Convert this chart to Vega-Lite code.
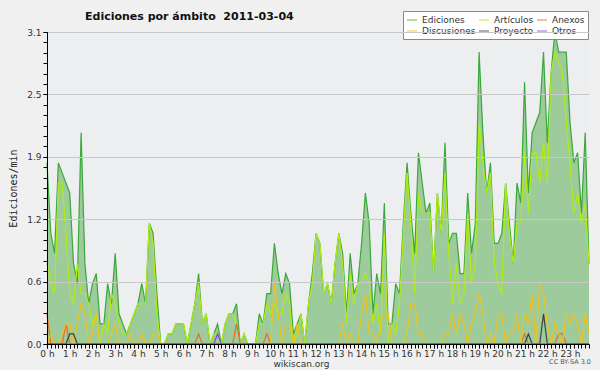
{
  "$schema": "https://vega.github.io/schema/vega-lite/v6.json",
  "width": 542,
  "height": 312,
  "autosize": {"type": "none"},
  "padding": {"left": 47, "top": 32, "right": 11, "bottom": 26},
  "background": "#f0f0f0",
  "title": {"text": "Ediciones por ámbito\u00a0\u00a02011-03-04", "anchor": "start", "frame": "group", "dx": 38, "offset": -22, "baseline": "bottom", "font": "DejaVu Sans", "fontSize": 11, "fontWeight": "bold", "color": "#111"},
  "config": {
    "view": {"fill": "#edeef0", "stroke": null},
    "axis": {"labelFont": "DejaVu Sans", "labelFontSize": 9, "labelColor": "#333", "domainColor": "#000", "tickColor": "#000", "titleFont": "DejaVu Sans", "titleFontWeight": "normal", "titleColor": "#222"},
    "legend": {"labelFont": "DejaVu Sans", "labelFontSize": 9, "labelColor": "#333"}
  },
  "data": {"values": [
    {"m":0,"Ediciones":1.8,"Artículos":0.8,"Anexos":0.3,"Discusiones":0,"Proyecto":0,"Otros":0},
    {"m":10,"Ediciones":1.1,"Artículos":0.6,"Anexos":0,"Discusiones":0.1,"Proyecto":0,"Otros":0},
    {"m":20,"Ediciones":0.9,"Artículos":0.5,"Anexos":0,"Discusiones":0,"Proyecto":0,"Otros":0},
    {"m":30,"Ediciones":1.8,"Artículos":1.6,"Anexos":0,"Discusiones":0,"Proyecto":0,"Otros":0},
    {"m":40,"Ediciones":1.7,"Artículos":1.6,"Anexos":0,"Discusiones":0.1,"Proyecto":0,"Otros":0},
    {"m":50,"Ediciones":1.6,"Artículos":1.1,"Anexos":0.2,"Discusiones":0.2,"Proyecto":0,"Otros":0},
    {"m":60,"Ediciones":1.5,"Artículos":0.5,"Anexos":0,"Discusiones":0.2,"Proyecto":0.1,"Otros":0},
    {"m":70,"Ediciones":0.8,"Artículos":0.4,"Anexos":0,"Discusiones":0,"Proyecto":0.1,"Otros":0},
    {"m":80,"Ediciones":0.6,"Artículos":0.8,"Anexos":0,"Discusiones":0.2,"Proyecto":0,"Otros":0},
    {"m":90,"Ediciones":2.1,"Artículos":0.5,"Anexos":0,"Discusiones":0.4,"Proyecto":0,"Otros":0},
    {"m":100,"Ediciones":0.8,"Artículos":0.5,"Anexos":0,"Discusiones":0.3,"Proyecto":0,"Otros":0},
    {"m":110,"Ediciones":0.4,"Artículos":0.4,"Anexos":0,"Discusiones":0,"Proyecto":0,"Otros":0},
    {"m":120,"Ediciones":0.6,"Artículos":0.2,"Anexos":0,"Discusiones":0.1,"Proyecto":0,"Otros":0},
    {"m":130,"Ediciones":0.7,"Artículos":0.3,"Anexos":0,"Discusiones":0.3,"Proyecto":0,"Otros":0},
    {"m":140,"Ediciones":0.2,"Artículos":0,"Anexos":0,"Discusiones":0,"Proyecto":0,"Otros":0},
    {"m":150,"Ediciones":0.2,"Artículos":0.2,"Anexos":0,"Discusiones":0,"Proyecto":0,"Otros":0},
    {"m":160,"Ediciones":0.6,"Artículos":0.1,"Anexos":0,"Discusiones":0,"Proyecto":0,"Otros":0},
    {"m":170,"Ediciones":0.4,"Artículos":0.5,"Anexos":0,"Discusiones":0.1,"Proyecto":0,"Otros":0},
    {"m":180,"Ediciones":0.9,"Artículos":0.4,"Anexos":0,"Discusiones":0.2,"Proyecto":0,"Otros":0},
    {"m":190,"Ediciones":0.3,"Artículos":0.2,"Anexos":0,"Discusiones":0,"Proyecto":0,"Otros":0},
    {"m":200,"Ediciones":0.2,"Artículos":0.1,"Anexos":0,"Discusiones":0,"Proyecto":0,"Otros":0},
    {"m":210,"Ediciones":0.1,"Artículos":0.1,"Anexos":0,"Discusiones":0,"Proyecto":0,"Otros":0},
    {"m":220,"Ediciones":0.2,"Artículos":0.2,"Anexos":0,"Discusiones":0.1,"Proyecto":0,"Otros":0},
    {"m":230,"Ediciones":0.3,"Artículos":0.3,"Anexos":0,"Discusiones":0,"Proyecto":0,"Otros":0},
    {"m":240,"Ediciones":0.4,"Artículos":0.4,"Anexos":0,"Discusiones":0,"Proyecto":0,"Otros":0},
    {"m":250,"Ediciones":0.6,"Artículos":0.4,"Anexos":0,"Discusiones":0.1,"Proyecto":0,"Otros":0},
    {"m":260,"Ediciones":0.4,"Artículos":0.4,"Anexos":0,"Discusiones":0,"Proyecto":0,"Otros":0},
    {"m":270,"Ediciones":1.2,"Artículos":1.2,"Anexos":0,"Discusiones":0,"Proyecto":0,"Otros":0},
    {"m":280,"Ediciones":1.1,"Artículos":1.0,"Anexos":0,"Discusiones":0.1,"Proyecto":0,"Otros":0},
    {"m":290,"Ediciones":0.5,"Artículos":0.3,"Anexos":0,"Discusiones":0.1,"Proyecto":0,"Otros":0},
    {"m":300,"Ediciones":0,"Artículos":0,"Anexos":0,"Discusiones":0,"Proyecto":0,"Otros":0},
    {"m":310,"Ediciones":0,"Artículos":0,"Anexos":0,"Discusiones":0,"Proyecto":0,"Otros":0},
    {"m":320,"Ediciones":0.1,"Artículos":0.1,"Anexos":0,"Discusiones":0,"Proyecto":0,"Otros":0},
    {"m":330,"Ediciones":0.1,"Artículos":0.1,"Anexos":0,"Discusiones":0,"Proyecto":0,"Otros":0},
    {"m":340,"Ediciones":0.2,"Artículos":0.2,"Anexos":0,"Discusiones":0,"Proyecto":0,"Otros":0},
    {"m":350,"Ediciones":0.2,"Artículos":0.2,"Anexos":0,"Discusiones":0,"Proyecto":0,"Otros":0},
    {"m":360,"Ediciones":0.2,"Artículos":0.2,"Anexos":0,"Discusiones":0,"Proyecto":0,"Otros":0},
    {"m":370,"Ediciones":0,"Artículos":0,"Anexos":0,"Discusiones":0,"Proyecto":0,"Otros":0},
    {"m":380,"Ediciones":0.2,"Artículos":0.2,"Anexos":0,"Discusiones":0,"Proyecto":0,"Otros":0},
    {"m":390,"Ediciones":0.4,"Artículos":0.4,"Anexos":0,"Discusiones":0,"Proyecto":0,"Otros":0},
    {"m":400,"Ediciones":0.7,"Artículos":0.6,"Anexos":0.1,"Discusiones":0,"Proyecto":0,"Otros":0},
    {"m":410,"Ediciones":0.2,"Artículos":0.2,"Anexos":0,"Discusiones":0,"Proyecto":0,"Otros":0},
    {"m":420,"Ediciones":0.3,"Artículos":0.3,"Anexos":0,"Discusiones":0,"Proyecto":0,"Otros":0},
    {"m":430,"Ediciones":0,"Artículos":0,"Anexos":0,"Discusiones":0,"Proyecto":0,"Otros":0},
    {"m":440,"Ediciones":0.1,"Artículos":0.1,"Anexos":0,"Discusiones":0,"Proyecto":0,"Otros":0},
    {"m":450,"Ediciones":0.2,"Artículos":0.1,"Anexos":0,"Discusiones":0,"Proyecto":0,"Otros":0.1},
    {"m":460,"Ediciones":0,"Artículos":0,"Anexos":0,"Discusiones":0,"Proyecto":0,"Otros":0},
    {"m":470,"Ediciones":0.2,"Artículos":0.2,"Anexos":0,"Discusiones":0,"Proyecto":0,"Otros":0},
    {"m":480,"Ediciones":0.3,"Artículos":0.3,"Anexos":0,"Discusiones":0,"Proyecto":0,"Otros":0},
    {"m":490,"Ediciones":0.3,"Artículos":0.3,"Anexos":0,"Discusiones":0,"Proyecto":0,"Otros":0},
    {"m":500,"Ediciones":0.4,"Artículos":0.2,"Anexos":0.2,"Discusiones":0,"Proyecto":0,"Otros":0},
    {"m":510,"Ediciones":0,"Artículos":0,"Anexos":0,"Discusiones":0,"Proyecto":0,"Otros":0},
    {"m":520,"Ediciones":0.1,"Artículos":0.1,"Anexos":0,"Discusiones":0,"Proyecto":0,"Otros":0},
    {"m":530,"Ediciones":0,"Artículos":0,"Anexos":0,"Discusiones":0,"Proyecto":0,"Otros":0},
    {"m":540,"Ediciones":0,"Artículos":0,"Anexos":0,"Discusiones":0,"Proyecto":0,"Otros":0},
    {"m":550,"Ediciones":0,"Artículos":0,"Anexos":0,"Discusiones":0,"Proyecto":0,"Otros":0},
    {"m":560,"Ediciones":0.3,"Artículos":0.2,"Anexos":0,"Discusiones":0,"Proyecto":0,"Otros":0},
    {"m":570,"Ediciones":0.2,"Artículos":0.2,"Anexos":0,"Discusiones":0,"Proyecto":0,"Otros":0},
    {"m":580,"Ediciones":0.5,"Artículos":0.4,"Anexos":0.1,"Discusiones":0,"Proyecto":0,"Otros":0},
    {"m":590,"Ediciones":0.5,"Artículos":0.3,"Anexos":0,"Discusiones":0,"Proyecto":0,"Otros":0},
    {"m":600,"Ediciones":1.0,"Artículos":0.4,"Anexos":0,"Discusiones":0.6,"Proyecto":0,"Otros":0},
    {"m":610,"Ediciones":0.7,"Artículos":0.3,"Anexos":0,"Discusiones":0.3,"Proyecto":0,"Otros":0},
    {"m":620,"Ediciones":0.5,"Artículos":0.3,"Anexos":0,"Discusiones":0,"Proyecto":0,"Otros":0},
    {"m":630,"Ediciones":0.7,"Artículos":0.5,"Anexos":0,"Discusiones":0.2,"Proyecto":0,"Otros":0},
    {"m":640,"Ediciones":0.6,"Artículos":0.4,"Anexos":0,"Discusiones":0.2,"Proyecto":0,"Otros":0},
    {"m":650,"Ediciones":0.1,"Artículos":0,"Anexos":0,"Discusiones":0,"Proyecto":0,"Otros":0},
    {"m":660,"Ediciones":0.2,"Artículos":0.1,"Anexos":0,"Discusiones":0.2,"Proyecto":0,"Otros":0},
    {"m":670,"Ediciones":0.3,"Artículos":0.3,"Anexos":0,"Discusiones":0,"Proyecto":0,"Otros":0},
    {"m":680,"Ediciones":0,"Artículos":0,"Anexos":0,"Discusiones":0,"Proyecto":0,"Otros":0},
    {"m":690,"Ediciones":0.4,"Artículos":0.4,"Anexos":0,"Discusiones":0,"Proyecto":0,"Otros":0},
    {"m":700,"Ediciones":0.7,"Artículos":0.6,"Anexos":0,"Discusiones":0,"Proyecto":0,"Otros":0},
    {"m":710,"Ediciones":1.1,"Artículos":1.1,"Anexos":0,"Discusiones":0,"Proyecto":0,"Otros":0},
    {"m":720,"Ediciones":1.0,"Artículos":1.0,"Anexos":0,"Discusiones":0,"Proyecto":0,"Otros":0},
    {"m":730,"Ediciones":0.5,"Artículos":0.5,"Anexos":0,"Discusiones":0,"Proyecto":0,"Otros":0},
    {"m":740,"Ediciones":0.6,"Artículos":0.6,"Anexos":0,"Discusiones":0,"Proyecto":0,"Otros":0},
    {"m":750,"Ediciones":0.4,"Artículos":0.4,"Anexos":0,"Discusiones":0,"Proyecto":0,"Otros":0},
    {"m":760,"Ediciones":0.8,"Artículos":0.8,"Anexos":0,"Discusiones":0,"Proyecto":0,"Otros":0},
    {"m":770,"Ediciones":1.1,"Artículos":1.1,"Anexos":0,"Discusiones":0,"Proyecto":0,"Otros":0},
    {"m":780,"Ediciones":0.9,"Artículos":0.8,"Anexos":0,"Discusiones":0.2,"Proyecto":0,"Otros":0},
    {"m":790,"Ediciones":0.3,"Artículos":0.2,"Anexos":0,"Discusiones":0,"Proyecto":0,"Otros":0},
    {"m":800,"Ediciones":0.9,"Artículos":0.7,"Anexos":0,"Discusiones":0.1,"Proyecto":0,"Otros":0},
    {"m":810,"Ediciones":0.5,"Artículos":0.4,"Anexos":0,"Discusiones":0,"Proyecto":0,"Otros":0},
    {"m":820,"Ediciones":0.6,"Artículos":0.6,"Anexos":0,"Discusiones":0,"Proyecto":0,"Otros":0},
    {"m":830,"Ediciones":1.0,"Artículos":0.6,"Anexos":0,"Discusiones":0.3,"Proyecto":0,"Otros":0},
    {"m":840,"Ediciones":1.5,"Artículos":0.7,"Anexos":0,"Discusiones":0.5,"Proyecto":0,"Otros":0},
    {"m":850,"Ediciones":1.2,"Artículos":0.6,"Anexos":0,"Discusiones":0.1,"Proyecto":0,"Otros":0},
    {"m":860,"Ediciones":0.3,"Artículos":0.2,"Anexos":0,"Discusiones":0.1,"Proyecto":0,"Otros":0},
    {"m":870,"Ediciones":0.7,"Artículos":0.4,"Anexos":0,"Discusiones":0,"Proyecto":0,"Otros":0},
    {"m":880,"Ediciones":0.5,"Artículos":0.1,"Anexos":0,"Discusiones":0.2,"Proyecto":0,"Otros":0},
    {"m":890,"Ediciones":1.4,"Artículos":1.1,"Anexos":0,"Discusiones":0.3,"Proyecto":0,"Otros":0},
    {"m":900,"Ediciones":0.2,"Artículos":0,"Anexos":0,"Discusiones":0.3,"Proyecto":0,"Otros":0},
    {"m":910,"Ediciones":0.2,"Artículos":0.2,"Anexos":0,"Discusiones":0,"Proyecto":0,"Otros":0},
    {"m":920,"Ediciones":0.6,"Artículos":0.1,"Anexos":0,"Discusiones":0,"Proyecto":0,"Otros":0},
    {"m":930,"Ediciones":0.5,"Artículos":0.4,"Anexos":0,"Discusiones":0,"Proyecto":0,"Otros":0},
    {"m":940,"Ediciones":1.2,"Artículos":1.1,"Anexos":0,"Discusiones":0,"Proyecto":0,"Otros":0},
    {"m":950,"Ediciones":1.8,"Artículos":1.7,"Anexos":0,"Discusiones":0.1,"Proyecto":0,"Otros":0},
    {"m":960,"Ediciones":1.3,"Artículos":1.2,"Anexos":0,"Discusiones":0.4,"Proyecto":0,"Otros":0},
    {"m":970,"Ediciones":0.9,"Artículos":0.5,"Anexos":0,"Discusiones":0.4,"Proyecto":0,"Otros":0},
    {"m":980,"Ediciones":1.9,"Artículos":1.5,"Anexos":0,"Discusiones":0.1,"Proyecto":0,"Otros":0},
    {"m":990,"Ediciones":1.6,"Artículos":1.3,"Anexos":0,"Discusiones":0.1,"Proyecto":0,"Otros":0},
    {"m":1000,"Ediciones":1.3,"Artículos":1.3,"Anexos":0,"Discusiones":0,"Proyecto":0,"Otros":0},
    {"m":1010,"Ediciones":1.4,"Artículos":1.3,"Anexos":0,"Discusiones":0,"Proyecto":0,"Otros":0},
    {"m":1020,"Ediciones":0.7,"Artículos":0.7,"Anexos":0,"Discusiones":0,"Proyecto":0,"Otros":0},
    {"m":1030,"Ediciones":1.5,"Artículos":1.5,"Anexos":0,"Discusiones":0,"Proyecto":0,"Otros":0},
    {"m":1040,"Ediciones":1.1,"Artículos":1.1,"Anexos":0,"Discusiones":0,"Proyecto":0,"Otros":0},
    {"m":1050,"Ediciones":2.0,"Artículos":1.7,"Anexos":0,"Discusiones":0.1,"Proyecto":0,"Otros":0},
    {"m":1060,"Ediciones":1.0,"Artículos":0.9,"Anexos":0,"Discusiones":0.1,"Proyecto":0,"Otros":0},
    {"m":1070,"Ediciones":1.1,"Artículos":0.4,"Anexos":0,"Discusiones":0.3,"Proyecto":0,"Otros":0},
    {"m":1080,"Ediciones":1.1,"Artículos":0.8,"Anexos":0,"Discusiones":0.1,"Proyecto":0,"Otros":0},
    {"m":1090,"Ediciones":0.7,"Artículos":0.4,"Anexos":0,"Discusiones":0.3,"Proyecto":0,"Otros":0},
    {"m":1100,"Ediciones":0.7,"Artículos":0.5,"Anexos":0,"Discusiones":0.2,"Proyecto":0,"Otros":0},
    {"m":1110,"Ediciones":1.5,"Artículos":1.3,"Anexos":0,"Discusiones":0,"Proyecto":0,"Otros":0},
    {"m":1120,"Ediciones":0.9,"Artículos":0.6,"Anexos":0,"Discusiones":0.2,"Proyecto":0,"Otros":0},
    {"m":1130,"Ediciones":1.2,"Artículos":0.8,"Anexos":0,"Discusiones":0.3,"Proyecto":0,"Otros":0},
    {"m":1140,"Ediciones":2.9,"Artículos":2.2,"Anexos":0,"Discusiones":0.5,"Proyecto":0,"Otros":0},
    {"m":1150,"Ediciones":2.1,"Artículos":1.8,"Anexos":0,"Discusiones":0.3,"Proyecto":0,"Otros":0},
    {"m":1160,"Ediciones":1.5,"Artículos":1.5,"Anexos":0,"Discusiones":0,"Proyecto":0,"Otros":0},
    {"m":1170,"Ediciones":1.8,"Artículos":1.7,"Anexos":0,"Discusiones":0.1,"Proyecto":0,"Otros":0},
    {"m":1180,"Ediciones":1.0,"Artículos":0.8,"Anexos":0,"Discusiones":0,"Proyecto":0,"Otros":0},
    {"m":1190,"Ediciones":1.0,"Artículos":0.6,"Anexos":0,"Discusiones":0.3,"Proyecto":0,"Otros":0},
    {"m":1200,"Ediciones":1.1,"Artículos":0.5,"Anexos":0,"Discusiones":0.3,"Proyecto":0,"Otros":0},
    {"m":1210,"Ediciones":1.6,"Artículos":1.6,"Anexos":0,"Discusiones":0,"Proyecto":0,"Otros":0},
    {"m":1220,"Ediciones":1.2,"Artículos":1.1,"Anexos":0,"Discusiones":0.1,"Proyecto":0,"Otros":0},
    {"m":1230,"Ediciones":0.8,"Artículos":0.8,"Anexos":0,"Discusiones":0.1,"Proyecto":0,"Otros":0},
    {"m":1240,"Ediciones":1.6,"Artículos":1.2,"Anexos":0,"Discusiones":0.3,"Proyecto":0,"Otros":0},
    {"m":1250,"Ediciones":1.4,"Artículos":1.2,"Anexos":0,"Discusiones":0,"Proyecto":0,"Otros":0},
    {"m":1260,"Ediciones":2.6,"Artículos":1.9,"Anexos":0.1,"Discusiones":0.3,"Proyecto":0,"Otros":0},
    {"m":1270,"Ediciones":1.5,"Artículos":1.3,"Anexos":0,"Discusiones":0.2,"Proyecto":0.1,"Otros":0},
    {"m":1280,"Ediciones":2.1,"Artículos":1.9,"Anexos":0,"Discusiones":0.5,"Proyecto":0,"Otros":0},
    {"m":1290,"Ediciones":2.2,"Artículos":1.9,"Anexos":0,"Discusiones":0,"Proyecto":0,"Otros":0},
    {"m":1300,"Ediciones":2.3,"Artículos":1.6,"Anexos":0,"Discusiones":0.6,"Proyecto":0,"Otros":0},
    {"m":1310,"Ediciones":2.9,"Artículos":2.0,"Anexos":0,"Discusiones":0.5,"Proyecto":0.3,"Otros":0},
    {"m":1320,"Ediciones":2.0,"Artículos":1.6,"Anexos":0,"Discusiones":0.2,"Proyecto":0,"Otros":0},
    {"m":1330,"Ediciones":2.7,"Artículos":2.7,"Anexos":0,"Discusiones":0,"Proyecto":0,"Otros":0},
    {"m":1340,"Ediciones":3.1,"Artículos":2.9,"Anexos":0,"Discusiones":0.2,"Proyecto":0,"Otros":0},
    {"m":1350,"Ediciones":2.9,"Artículos":2.8,"Anexos":0.1,"Discusiones":0.1,"Proyecto":0,"Otros":0},
    {"m":1360,"Ediciones":2.9,"Artículos":2.7,"Anexos":0.1,"Discusiones":0,"Proyecto":0,"Otros":0},
    {"m":1370,"Ediciones":2.9,"Artículos":2.2,"Anexos":0,"Discusiones":0.3,"Proyecto":0,"Otros":0},
    {"m":1380,"Ediciones":2.2,"Artículos":1.8,"Anexos":0,"Discusiones":0.2,"Proyecto":0,"Otros":0},
    {"m":1390,"Ediciones":1.8,"Artículos":1.3,"Anexos":0,"Discusiones":0.3,"Proyecto":0,"Otros":0},
    {"m":1400,"Ediciones":1.9,"Artículos":1.5,"Anexos":0,"Discusiones":0.2,"Proyecto":0,"Otros":0},
    {"m":1410,"Ediciones":1.3,"Artículos":1.2,"Anexos":0,"Discusiones":0,"Proyecto":0,"Otros":0},
    {"m":1420,"Ediciones":2.1,"Artículos":1.4,"Anexos":0,"Discusiones":0.3,"Proyecto":0,"Otros":0},
    {"m":1430,"Ediciones":0.8,"Artículos":0.8,"Anexos":0,"Discusiones":0.1,"Proyecto":0,"Otros":0}
  ]},
  "resolve": {"scale": {"x": "shared", "y": "shared"}, "axis": {"x": "independent", "y": "independent"}},
  "layer": [
    {
      "mark": {"type": "area", "color": "#9dcb9c", "opacity": 1},
      "encoding": {
        "x": {"field": "m", "type": "quantitative", "scale": {"domain": [0, 1430], "nice": false, "zero": false},
          "axis": {"orient": "bottom", "values": [0,60,120,180,240,300,360,420,480,540,600,660,720,780,840,900,960,1020,1080,1140,1200,1260,1320,1380],
            "labelExpr": "floor(datum.value / 60) + ' h'",
            "grid": false, "tickSize": 4, "labelPadding": 1, "labelFlush": false, "labelOverlap": false, "labelDx": -2,
            "title": "wikiscan.org", "titleFontSize": 9, "titlePadding": 1, "titleX": 254, "titleColor": "#333", "zindex": 1}},
        "y": {"field": "Ediciones", "type": "quantitative", "scale": {"domain": [0, 3.1], "nice": false},
          "axis": {"orient": "left", "values": [0, 0.62, 1.24, 1.86, 2.48, 3.1], "format": ".1f",
            "grid": true, "gridColor": "#c8c8c8", "tickSize": 4, "labelPadding": 2, "labelOverlap": false,
            "title": "Ediciones/min", "titleFont": "DejaVu Sans Mono", "titleFontSize": 10, "titlePadding": 8, "zindex": 1}}
      }
    },
    {
      "transform": [{"fold": ["Ediciones", "Artículos", "Anexos", "Discusiones", "Proyecto", "Otros"], "as": ["serie", "v"]}],
      "mark": {"type": "line", "strokeWidth": 1.2, "interpolate": "linear"},
      "encoding": {
        "x": {"field": "m", "type": "quantitative", "axis": null},
        "y": {"field": "v", "type": "quantitative", "axis": null},
        "color": {"field": "serie", "type": "nominal",
          "scale": {"domain": ["Ediciones", "Artículos", "Anexos", "Discusiones", "Proyecto", "Otros"], "range": ["#3aa83a", "#b0ec10", "#ec6a28", "#f0c21c", "#404040", "#8a3ee6"]},
          "legend": {"orient": "none", "legendX": 356, "legendY": -21, "columns": 3, "direction": "horizontal", "title": null,
            "fillColor": "#ffffff", "strokeColor": "#888888", "padding": 3, "symbolType": "stroke", "symbolSize": 100, "symbolStrokeWidth": 1.2, "symbolOpacity": 0.7,
            "labelOffset": 4, "columnPadding": 0, "rowPadding": 0, "labelFontSize": 9}},
        "order": {"field": "m", "type": "quantitative"}
      }
    },
    {
      "data": {"values": [{"label": "CC BY-SA 3.0"}]},
      "mark": {"type": "text", "align": "right", "baseline": "middle", "dy": 18, "dx": 2, "font": "DejaVu Sans", "fontSize": 6.5, "color": "#555"},
      "encoding": {
        "x": {"datum": 1430, "type": "quantitative",
          "axis": {"orient": "bottom", "values": [0,10,20,30,40,50,60,70,80,90,100,110,120,130,140,150,160,170,180,190,200,210,220,230,240,250,260,270,280,290,300,310,320,330,340,350,360,370,380,390,400,410,420,430,440,450,460,470,480,490,500,510,520,530,540,550,560,570,580,590,600,610,620,630,640,650,660,670,680,690,700,710,720,730,740,750,760,770,780,790,800,810,820,830,840,850,860,870,880,890,900,910,920,930,940,950,960,970,980,990,1000,1010,1020,1030,1040,1050,1060,1070,1080,1090,1100,1110,1120,1130,1140,1150,1160,1170,1180,1190,1200,1210,1220,1230,1240,1250,1260,1270,1280,1290,1300,1310,1320,1330,1340,1350,1360,1370,1380,1390,1400,1410,1420,1430],
            "labels": false, "grid": false, "domain": false, "tickSize": 4, "title": null, "zindex": 1}},
        "y": {"datum": 0, "type": "quantitative",
          "axis": {"orient": "left", "values": [0,0.10333,0.20667,0.31,0.41333,0.51667,0.62,0.72333,0.82667,0.93,1.03333,1.13667,1.24,1.34333,1.44667,1.55,1.65333,1.75667,1.86,1.96333,2.06667,2.17,2.27333,2.37667,2.48,2.58333,2.68667,2.79,2.89333,2.99667,3.1],
            "labels": false, "grid": false, "domain": false, "tickSize": 4, "title": null, "zindex": 1}},
        "text": {"field": "label"}
      }
    }
  ]
}
